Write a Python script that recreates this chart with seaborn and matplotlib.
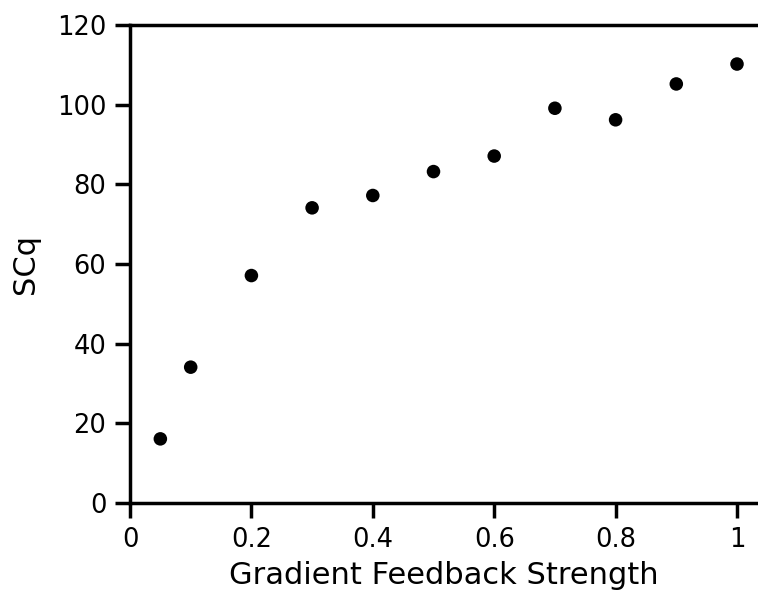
import matplotlib
matplotlib.use("Agg")
import matplotlib.pyplot as plt
import seaborn as sns
import pandas as pd

strength = [0.05, 0.1, 0.2, 0.3, 0.4, 0.5, 0.6, 0.7, 0.8, 0.9, 1.0]
scq = [16.1, 34.1, 57.1, 74.1, 77.2, 83.2, 87.1, 99.1, 96.2, 105.2, 110.2]
xticks = [0, 0.2, 0.4, 0.6, 0.8, 1]
xticklabels = ["0", "0.2", "0.4", "0.6", "0.8", "1"]
yticks = [0, 20, 40, 60, 80, 100, 120]

df = pd.DataFrame({"Gradient Feedback Strength": strength, "SCq": scq})

sns.set_theme(style="ticks")
plt.rcParams['font.family'] = ['DejaVu Sans']

fig = plt.figure(figsize=(7.58, 5.94), dpi=100)
ax = fig.add_axes([130/758, 91/594, 628/758, 478/594])

sns.scatterplot(data=df, x="Gradient Feedback Strength", y="SCq", ax=ax,
                color="black", s=95, edgecolor="none", zorder=3)

ax.set_xlim(0, 628/607)
ax.set_ylim(0, 120)
ax.set_xticks(xticks)
ax.set_xticklabels(xticklabels)
ax.set_yticks(yticks)

for side in ["left", "bottom", "top"]:
    ax.spines[side].set_linewidth(2.5)
    ax.spines[side].set_color("black")
ax.spines["right"].set_visible(False)

ax.tick_params(axis="both", direction="out", length=11, width=2.5,
               labelsize=18.5, colors="black", labelcolor="black", pad=6)
ax.tick_params(axis="x", pad=6)
ax.set_xlabel("Gradient Feedback Strength", fontsize=22, labelpad=6, color="black")
ax.set_ylabel("SCq", fontsize=22, labelpad=12, color="black")

fig.savefig("out.png", dpi=100, facecolor="white")
